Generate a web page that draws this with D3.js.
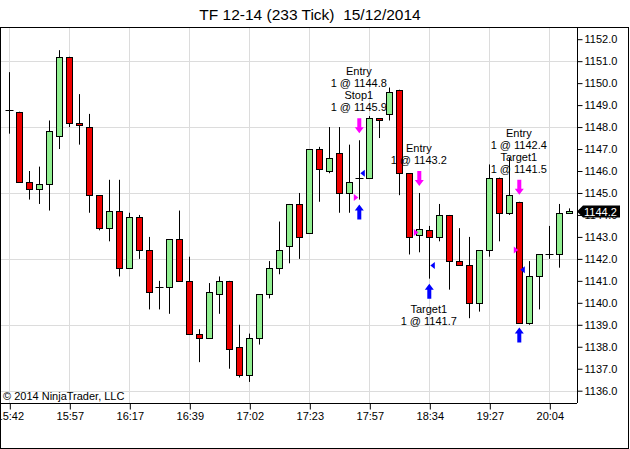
<!DOCTYPE html>
<html>
<head>
<meta charset="utf-8">
<script src="https://cdn.jsdelivr.net/npm/d3@7"></script>
<style>
  body { margin: 0; background: #fff; }
  text { font-family: Arial, "Liberation Sans", sans-serif; }
</style>
</head>
<body>
<svg id="chart" width="630" height="449"></svg>
<script>
// bar data (233 tick bars)
const bars = d3.range(57);
const opens  = [1148.8,1148.7,1145.5,1145.2,1145.4,1147.6,1151.2,1148.2,1148.0,1144.9,
                1143.4,1144.2,1141.6,1143.9,1142.4,1140.7,1140.7,1142.9,1141.0,1138.6,
                1138.4,1140.4,1141.0,1138.0,1136.7,1138.4,1140.4,1141.6,1142.6,1144.5,
                1143.2,1147.0,1146.0,1146.8,1145.0,1145.7,1145.7,1148.4,1148.6,1149.7,
                1145.9,1143.1,1143.3,1143.0,1144.0,1141.9,1141.7,1140.0,1142.4,1145.7,
                1144.1,1144.6,1139.1,1141.2,1142.2,1142.2,1144.1];
const highs  = [1150.5,1148.7,1146.0,1146.2,1148.3,1151.5,1151.2,1149.5,1148.6,1144.9,
                1145.6,1145.6,1144.1,1144.0,1143.0,1141.0,1142.9,1144.2,1142.1,1138.8,
                1140.9,1141.2,1141.0,1139.0,1138.6,1140.4,1141.9,1143.7,1144.5,1145.0,
                1147.0,1147.1,1148.0,1148.0,1147.2,1147.4,1148.5,1148.4,1149.8,1149.7,
                1145.9,1145.0,1143.5,1144.5,1144.0,1143.4,1143.0,1142.4,1146.3,1145.7,
                1146.6,1144.6,1141.9,1142.2,1143.5,1144.5,1144.3];
const lows   = [1147.7,1145.5,1144.7,1144.5,1144.2,1147.0,1148.0,1147.2,1144.1,1143.3,
                1142.8,1141.2,1141.6,1142.0,1139.7,1139.7,1139.5,1141.0,1138.6,1137.3,
                1138.4,1139.5,1137.0,1136.6,1136.4,1138.1,1140.2,1141.3,1141.8,1142.0,
                1143.2,1144.6,1145.9,1144.1,1144.1,1144.7,1145.7,1147.5,1148.3,1144.9,
                1142.2,1142.3,1141.1,1142.8,1140.6,1141.7,1139.3,1139.6,1142.1,1142.8,
                1144.0,1139.1,1139.0,1139.7,1142.0,1141.6,1144.1];
const closes = [1148.8,1145.5,1145.2,1145.4,1147.8,1151.2,1148.2,1148.1,1144.9,1143.4,
                1144.2,1141.6,1143.9,1142.4,1140.5,1140.7,1142.9,1141.0,1138.6,1138.4,
                1140.5,1141.0,1137.9,1136.7,1138.4,1140.4,1141.6,1142.4,1144.5,1143.0,
                1147.0,1146.1,1146.6,1145.0,1145.5,1145.7,1148.4,1148.3,1149.6,1145.9,
                1143.0,1143.35,1143.0,1144.0,1141.9,1141.7,1140.0,1142.4,1145.7,1144.1,
                1144.9,1139.1,1141.2,1142.2,1142.2,1144.1,1144.2];

// time axis labels, one every 6 bars
const tickBars = [0, 6, 12, 18, 24, 30, 36, 42, 48, 54];
const tickLabels = ["15:42","15:57","16:17","16:39","17:02","17:23","17:57","18:34","19:27","20:04"];

// executions
const execBars   = [35, 35, 41, 42, 51, 51];
const execSides  = ["sell","buy","sell","buy","sell","buy"];
const execNames  = ["Entry","Stop1","Entry","Target1","Entry","Target1"];
const execPrices = [1144.8, 1145.9, 1143.2, 1141.7, 1142.4, 1141.5];

const lastPrice = 1144.2;

const svg = d3.select("#chart");
const W = 630, H = 449;
const pLeft = 1, pTop = 27, pRight = 577, pBottom = 403;

const x = d3.scaleLinear().domain([0, 56]).range([9.3, 569.3]);
const y = d3.scaleLinear().domain([1136, 1152]).range([390.7, 39.2]);

const red = "#f00000", green = "#90ee90";
const magenta = "#ff00ff", blue = "#0000ff";

svg.append("rect").attr("width", W).attr("height", H).attr("fill", "#fff");

// title
svg.append("text")
  .attr("x", 310).attr("y", 20)
  .attr("text-anchor", "middle")
  .attr("font-size", "15.5px")
  .attr("fill", "#000")
  .style("white-space", "pre")
  .text("TF 12-14 (233 Tick)  15/12/2014");

svg.append("defs").append("clipPath").attr("id", "clip")
  .append("rect").attr("x", pLeft).attr("y", pTop).attr("width", pRight - pLeft).attr("height", pBottom - pTop);
const plot = svg.append("g").attr("clip-path", "url(#clip)");

// grid
plot.selectAll("line.hg").data(d3.range(1136, 1152, 3)).join("line")
  .attr("x1", pLeft).attr("x2", pRight)
  .attr("y1", d => Math.round(y(d)) + 0.5).attr("y2", d => Math.round(y(d)) + 0.5)
  .attr("stroke", "#dcdcdc");
plot.selectAll("line.vg").data(tickBars).join("line")
  .attr("x1", d => Math.round(x(d)) + 0.5).attr("x2", d => Math.round(x(d)) + 0.5)
  .attr("y1", pTop).attr("y2", pBottom)
  .attr("stroke", "#dcdcdc");

// candles
const px = i => Math.round(x(i)) + 0.5;
const candles = plot.selectAll("g.c").data(bars).join("g");
candles.append("line")
  .attr("x1", px).attr("x2", px)
  .attr("y1", i => y(highs[i])).attr("y2", i => y(lows[i]))
  .attr("stroke", "#000");
candles.each(function(i) {
  const g = d3.select(this);
  const o = opens[i], c = closes[i];
  if (Math.abs(o - c) < 0.05) {
    g.append("line")
      .attr("x1", px(i) - 4).attr("x2", px(i) + 4)
      .attr("y1", Math.round(y(o)) + 0.5).attr("y2", Math.round(y(o)) + 0.5)
      .attr("stroke", "#000");
  } else {
    const t = Math.round(y(Math.max(o, c))), b = Math.round(y(Math.min(o, c)));
    g.append("rect")
      .attr("x", px(i) - 3).attr("y", t + 0.5)
      .attr("width", 6).attr("height", Math.max(b - t, 1))
      .attr("fill", c > o ? green : red)
      .attr("stroke", "#000");
  }
});

// execution markers
const execs = execBars.map((b, k) => ({ bar: b, side: execSides[k], name: execNames[k], price: execPrices[k] }));
execs.forEach(e => {
  const cx = x(e.bar), cy = y(e.price);
  if (e.side === "sell") {
    plot.append("path")
      .attr("d", `M${cx - 5.5},${cy - 3.5}L${cx - 1},${cy}L${cx - 5.5},${cy + 3.5}Z`)
      .attr("fill", magenta);
    const yb = y(highs[e.bar]) - 7;
    plot.append("path")
      .attr("d", `M${cx - 2},${yb - 15}H${cx + 2}V${yb - 6}H${cx + 4.5}L${cx},${yb}L${cx - 4.5},${yb - 6}H${cx - 2}Z`)
      .attr("fill", magenta);
  } else {
    plot.append("path")
      .attr("d", `M${cx + 5.5},${cy - 3.5}L${cx + 1},${cy}L${cx + 5.5},${cy + 3.5}Z`)
      .attr("fill", blue);
    const yt = y(lows[e.bar]) + 5;
    plot.append("path")
      .attr("d", `M${cx - 2},${yt + 15}H${cx + 2}V${yt + 6}H${cx + 4.5}L${cx},${yt}L${cx - 4.5},${yt + 6}H${cx - 2}Z`)
      .attr("fill", blue);
  }
});

// execution texts, grouped per bar
d3.groups(execs, e => e.bar).forEach(([b, list]) => {
  const lines = [];
  list.forEach(e => { lines.push(e.name); lines.push("1 @ " + e.price.toFixed(1)); });
  const cx = x(b) - 0.5;
  if (list.some(e => e.side === "sell")) {
    const base = y(highs[b]) - 7 - 15 - 7;
    lines.forEach((s, k) => {
      plot.append("text").attr("x", cx).attr("y", base - (lines.length - 1 - k) * 12)
        .attr("text-anchor", "middle").attr("font-size", "11px").attr("fill", "#000").text(s);
    });
  } else {
    const base = y(lows[b]) + 5 + 15 + 14;
    lines.forEach((s, k) => {
      plot.append("text").attr("x", cx).attr("y", base + k * 12)
        .attr("text-anchor", "middle").attr("font-size", "11px").attr("fill", "#000").text(s);
    });
  }
});

// copyright
svg.append("text").attr("x", 3).attr("y", 400)
  .attr("font-size", "11px").attr("fill", "#000")
  .text("\u00a9 2014 NinjaTrader, LLC");

// frames
svg.append("line").attr("x1", 0).attr("x2", 629).attr("y1", 27.5).attr("y2", 27.5).attr("stroke", "#000");
svg.append("line").attr("x1", 0.5).attr("x2", 0.5).attr("y1", 27).attr("y2", 449).attr("stroke", "#000");
svg.append("line").attr("x1", 628.5).attr("x2", 628.5).attr("y1", 27).attr("y2", 449).attr("stroke", "#000");
svg.append("line").attr("x1", 0).attr("x2", 629).attr("y1", 448.5).attr("y2", 448.5).attr("stroke", "#000");
svg.append("line").attr("x1", 0).attr("x2", pRight).attr("y1", pBottom + 0.5).attr("y2", pBottom + 0.5).attr("stroke", "#000");
svg.append("line").attr("x1", pRight + 0.5).attr("x2", pRight + 0.5).attr("y1", pTop).attr("y2", pBottom).attr("stroke", "#000");

// y axis
const yAxis = svg.append("g").attr("transform", `translate(${pRight + 0.5},0)`)
  .call(d3.axisRight(y).tickValues(d3.range(1136, 1153)).tickFormat(d3.format(".1f")).tickSize(5).tickPadding(2));
yAxis.select(".domain").remove();
yAxis.selectAll("text").attr("font-size", "11px").attr("font-family", "Arial, 'Liberation Sans', sans-serif").attr("fill", "#000");
yAxis.selectAll("line").attr("stroke", "#000");

// x axis
const xAxis = svg.append("g").attr("transform", `translate(0.5,${pBottom + 0.5})`)
  .call(d3.axisBottom(x).tickValues(tickBars).tickFormat((d, i) => tickLabels[i]).tickSize(6).tickPadding(3));
xAxis.select(".domain").remove();
xAxis.selectAll("text").attr("font-size", "11px").attr("font-family", "Arial, 'Liberation Sans', sans-serif").attr("fill", "#000");
xAxis.selectAll("line").attr("stroke", "#000");

// last price tag
const ly = Math.round(y(lastPrice)) + 0.5;
svg.append("path")
  .attr("d", `M${pRight},${ly}L${pRight + 6},${ly - 6}H${620}V${ly + 6}H${pRight + 6}Z`)
  .attr("fill", "#000");
svg.append("text").attr("x", pRight + 7).attr("y", ly + 4)
  .attr("font-size", "11px").attr("fill", "#fff").text(lastPrice.toFixed(1));
</script>
</body>
</html>
